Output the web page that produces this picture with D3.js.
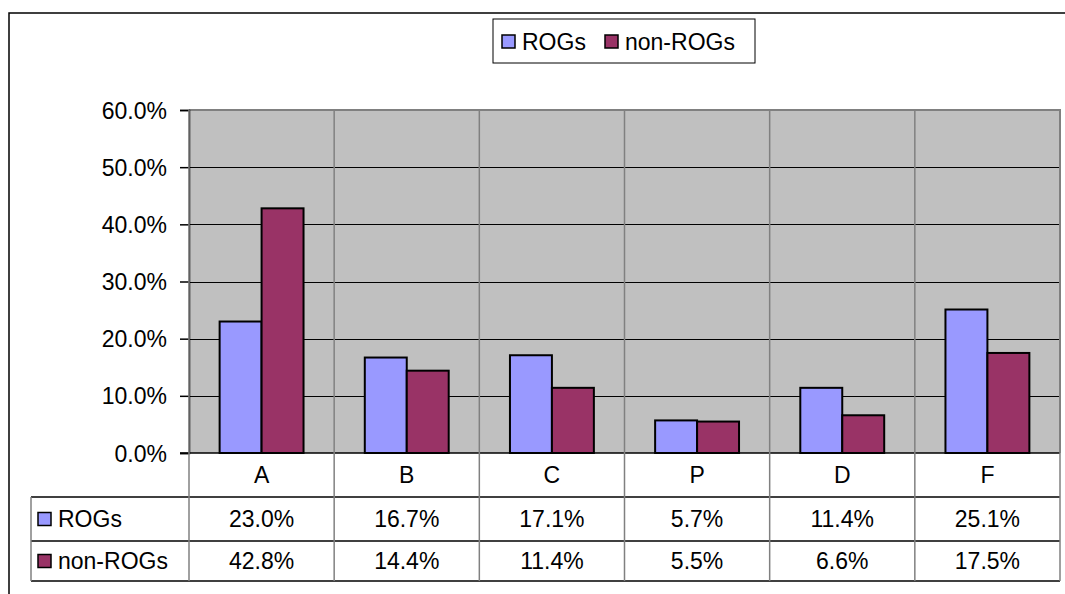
<!DOCTYPE html>
<html><head><meta charset="utf-8">
<script src="https://cdn.jsdelivr.net/npm/d3@7"></script>
<style>html,body{margin:0;padding:0;background:#fff;}svg{display:block;}text{font-family:"Liberation Sans",Arial,sans-serif;fill:#000;}</style>
</head><body>
<svg id="c" width="1065" height="594"></svg>
<script>
const categories = ["A","B","C","P","D","F"];
const seriesNames = ["ROGs","non-ROGs"];
const rogs = [0.230,0.167,0.171,0.057,0.114,0.251];
const nonRogs = [0.428,0.144,0.114,0.055,0.066,0.175];
const yTicks = [0,0.1,0.2,0.3,0.4,0.5,0.6];
const colors = ["#9999FF","#993366"];
const seriesValues = [rogs, nonRogs];

const svg = d3.select("#c");
const FS = 23;
const L = 189, R = 1060, T = 110, B = 453;
const rowLines = [497, 541, 581];
const tableLeft = 31;

const y = d3.scaleLinear().domain([0,0.6]).range([B,T]);
const x = d3.scaleBand().domain(categories).range([L,R]).paddingInner(0).paddingOuter(0);
const xs = d3.scaleBand().domain(seriesNames).range([0,x.bandwidth()]).paddingInner(0).paddingOuter(0.73);
const fmt = d3.format(".1%");

// outer border
svg.append("path").attr("d",`M9,594 V13 H1065`).attr("fill","none").attr("stroke","#000").attr("stroke-width",1.5);

// plot bg
svg.append("rect").attr("x",L).attr("y",T).attr("width",R-L).attr("height",B-T).attr("fill","#C0C0C0");

// gridlines
svg.append("g").selectAll("line").data(yTicks.slice(1)).join("line")
  .attr("x1",L).attr("x2",R).attr("y1",d=>Math.round(y(d))+0.5).attr("y2",d=>Math.round(y(d))+0.5)
  .attr("stroke","#000").attr("stroke-width",1);

// plot border (gray)
svg.append("path").attr("d",`M${L},${T} H${R} V${B}`).attr("fill","none").attr("stroke","#808080").attr("stroke-width",2);

// y axis
const yAxis = d3.axisLeft(y).tickValues(yTicks).tickFormat(fmt).tickSize(9).tickPadding(13);
const ga = svg.append("g").attr("transform",`translate(${L},0)`).call(yAxis);
ga.select(".domain").attr("stroke","#000").attr("stroke-width",1.5);
ga.selectAll(".tick line").attr("stroke","#000").attr("stroke-width",1.5);
ga.selectAll(".tick text").attr("font-size",FS).attr("font-family","Liberation Sans, Arial, sans-serif").attr("fill","#000").attr("dy","0.35em");

// bars
const groups = svg.append("g").selectAll("g").data(categories).join("g")
  .attr("transform",d=>`translate(${x(d)},0)`);
seriesNames.forEach((s,si)=>{
  groups.append("rect")
    .attr("x",xs(s)).attr("width",xs.bandwidth())
    .attr("y",(d,i)=>y(seriesValues[si][i])).attr("height",(d,i)=>B-y(seriesValues[si][i]))
    .attr("fill",colors[si]).attr("stroke","#000").attr("stroke-width",2);
});

// baseline
svg.append("line").attr("x1",L-9).attr("x2",R).attr("y1",B).attr("y2",B).attr("stroke","#000").attr("stroke-width",1.5);

// table lines
rowLines.forEach(ry=>{
  svg.append("line").attr("x1",tableLeft).attr("x2",R).attr("y1",ry).attr("y2",ry).attr("stroke","#000").attr("stroke-width",1.5);
});
svg.append("line").attr("x1",tableLeft).attr("x2",tableLeft).attr("y1",rowLines[0]).attr("y2",rowLines[2]).attr("stroke","#808080").attr("stroke-width",1.5);
const bounds = categories.map(c=>x(c)).concat([R]);
svg.append("g").selectAll("line").data(bounds).join("line")
  .attr("x1",d=>d).attr("x2",d=>d).attr("y1",T).attr("y2",rowLines[2])
  .attr("stroke","#808080").attr("stroke-width",1.5);

// category labels
svg.append("g").selectAll("text").data(categories).join("text")
  .attr("x",d=>x(d)+x.bandwidth()/2).attr("y",(B+rowLines[0])/2).attr("dy","0.35em")
  .attr("text-anchor","middle").attr("font-size",FS).text(d=>d);

// table values
seriesNames.forEach((s,si)=>{
  const cy = (rowLines[si]+rowLines[si+1])/2;
  svg.append("g").selectAll("text").data(categories).join("text")
    .attr("x",d=>x(d)+x.bandwidth()/2).attr("y",cy).attr("dy","0.35em")
    .attr("text-anchor","middle").attr("font-size",FS).text((d,i)=>fmt(seriesValues[si][i]));
  svg.append("rect").attr("x",38).attr("y",cy-6.5).attr("width",13).attr("height",13)
    .attr("fill",colors[si]).attr("stroke","#000").attr("stroke-width",1.5);
  svg.append("text").attr("x",58).attr("y",cy).attr("dy","0.35em").attr("font-size",FS).text(s);
});

// legend
const lg = svg.append("g");
lg.append("rect").attr("x",493).attr("y",19).attr("width",262).attr("height",44).attr("fill","#fff").attr("stroke","#000").attr("stroke-width",1);
const legX = [502, 605];
seriesNames.forEach((s,si)=>{
  lg.append("rect").attr("x",legX[si]).attr("y",35).attr("width",13).attr("height",13)
    .attr("fill",colors[si]).attr("stroke","#000").attr("stroke-width",1.5);
  lg.append("text").attr("x",legX[si]+20).attr("y",41.5).attr("dy","0.35em").attr("font-size",FS).text(s);
});
</script>
</body></html>
